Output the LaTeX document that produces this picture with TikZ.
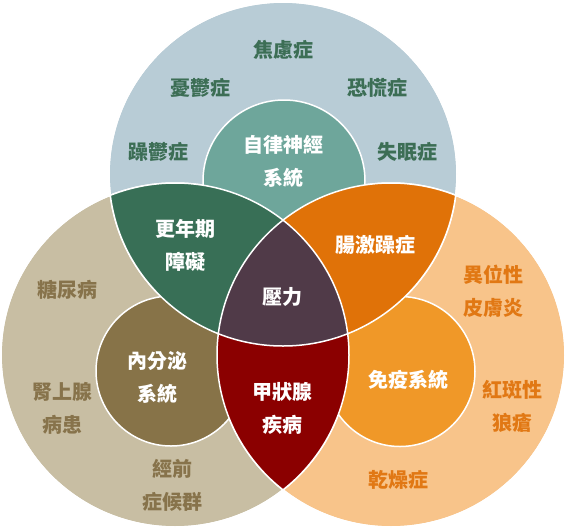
\documentclass[tikz,border=0pt]{standalone}
\usepackage{fontspec}
\newfontfamily\cjk{Noto Sans CJK TC}
\definecolor{skyT}{HTML}{B8CCD6}
\definecolor{tealT}{HTML}{6EA69B}
\definecolor{sandL}{HTML}{C8BEA3}
\definecolor{oliveL}{HTML}{877348}
\definecolor{peachR}{HTML}{F8C48A}
\definecolor{orangeR}{HTML}{F09828}
\definecolor{greenTL}{HTML}{386F56}
\definecolor{orangeTR}{HTML}{E07208}
\definecolor{redLR}{HTML}{8B0000}
\definecolor{plumC}{HTML}{503A48}
\definecolor{txtT}{HTML}{3C6E55}
\definecolor{txtL}{HTML}{87734B}
\definecolor{txtR}{HTML}{E17814}

% the three sets and their cores
\newcommand\setT{(283,174) ellipse [x radius=174pt, y radius=172pt]}
\newcommand\setL{(175,355) ellipse [x radius=174pt, y radius=172pt]}
\newcommand\setR{(391,355) ellipse [x radius=174pt, y radius=172pt]}
\newcommand\coreT{(284,181) circle [radius=81pt]}
\newcommand\coreL{(171,371) circle [radius=75pt]}
\newcommand\coreR{(400,371.5) circle [radius=75pt]}

\begin{document}
\begin{tikzpicture}[%
    x=1pt, y=-1pt,
    every node/.style = {inner sep=0pt, align=center, font=\cjk\bfseries\fontsize{20}{33}\selectfont},
    rim/.style = {draw=white, line width=1.5pt},
    outT/.style = {text=txtT},
    outL/.style = {text=txtL},
    outR/.style = {text=txtR},
    inner/.style = {text=white}%
  ]
    \useasboundingbox (0,0) rectangle (565,528);

    \fill[skyT] \setT;
    \fill[sandL] \setL;
    \fill[peachR] \setR;
    \draw[rim] \setT \setL \setR;

    \filldraw[rim, fill=tealT] \coreT;
    \filldraw[rim, fill=oliveL] \coreL;
    \filldraw[rim, fill=orangeR] \coreR;

    \begin{scope}
      \clip \setT;
      \fill[greenTL] \setL;
      \fill[orangeTR] \setR;
    \end{scope}
    \begin{scope}
      \clip \setL;
      \fill[redLR] \setR;
    \end{scope}
    \begin{scope}
      \clip \setT;
      \clip \setL;
      \fill[plumC] \setR;
    \end{scope}
    \draw[rim] \setT \setL \setR;

    % top set
    \node[outT] (anxiety) at (283,50) {焦慮症};
    \node[outT] (depress) at (200,88) {憂鬱症};
    \node[outT] (panic) at (377,88) {恐慌症};
    \node[outT] (bipolar) at (158,152) {躁鬱症};
    \node[outT] (insomnia) at (407,152) {失眠症};
    \node[inner] (autonomic) at (283,161) {自律神經\\系統};

    % left set
    \node[outL] (diabetes) at (67,290) {糖尿病};
    \node[outL] (adrenal) at (62,408) {腎上腺\\病患};
    \node[outL] (pms) at (172,485) {經前\\症候群};
    \node[inner] (endocrine) at (157,377) {內分泌\\系統};

    % right set
    \node[outR] (eczema) at (493,291.5) {異位性\\皮膚炎};
    \node[outR] (lupus) at (512,406.5) {紅斑性\\狼瘡};
    \node[outR] (sjogren) at (398,480) {乾燥症};
    \node[inner] (immune) at (408,380) {免疫系統};

    % overlaps
    \node[inner] (menopause) at (185,245.5) {更年期\\障礙};
    \node[inner] (ibs) at (375,245) {腸激躁症};
    \node[inner] (thyroid) at (282,408) {甲狀腺\\疾病};
    \node[inner] (stress) at (282,297) {壓力};
  \end{tikzpicture}
\end{document}
